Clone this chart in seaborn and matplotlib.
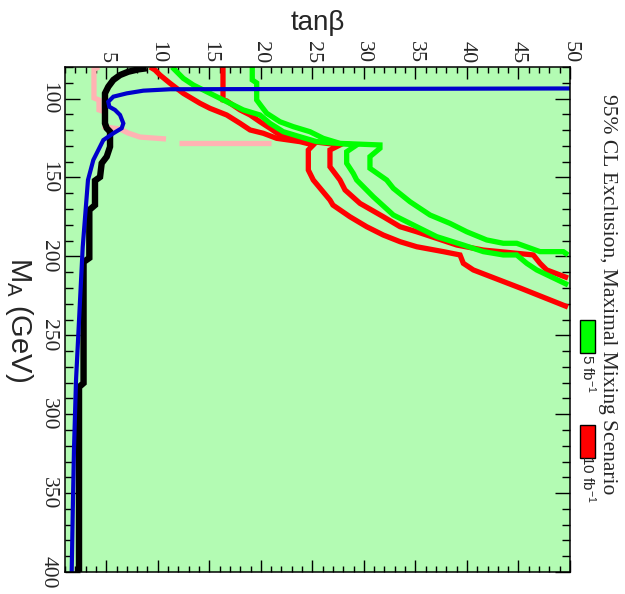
import numpy as np
import pandas as pd
import matplotlib
matplotlib.use("Agg")
import matplotlib.pyplot as plt
from matplotlib.patches import Rectangle
import seaborn as sns

# ---------------- data (tanβ, M_A in GeV) ----------------
red_a_tanb = [9.25, 9.73, 10.22, 11.19, 12.48, 14.10, 15.07, 16.69, 17.99, 18.96, 20.24, 21.54, 23.80, 25.09,
              24.61, 24.61, 25.09, 26.71, 27.00, 28.65, 30.27, 31.89, 33.51, 35.13, 37.71, 39.33, 39.65, 40.62,
              45.15, 49.8]
red_a_ma = [80, 81.9, 85.1, 90.3, 96.7, 103.0, 106.2, 110.4, 115.7, 119.9, 122.0, 125.2, 127.3, 129.4,
            132.6, 145.3, 151.6, 164.3, 167.5, 174.9, 181.2, 186.5, 190.7, 193.9, 197.0, 199.1, 204.4, 208.6,
            220.0, 232.1]

red_b_tanb = [16.33, 16.33, 16.69, 17.99, 18.96, 19.92, 20.89, 21.86, 23.80, 27.68, 26.71, 26.71, 27.68, 28.17,
              29.62, 31.89, 33.51, 35.13, 37.07, 39.01, 41.59, 43.21, 46.44, 47.09, 47.74, 49.81]
red_b_ma = [80, 100.9, 101.5, 107.2, 110.4, 114.7, 118.8, 123.1, 126.3, 129.4, 132.6, 143.2, 151.6, 157.9,
            166.4, 174.9, 181.2, 184.4, 188.6, 192.8, 196.0, 197.0, 199.1, 204.4, 208.6, 213.7]

green_a_tanb = [11.38, 12.48, 13.45, 15.07, 16.69, 18.30, 19.92, 20.89, 22.18, 23.80, 25.42, 29.30, 28.33, 28.33,
                28.97, 29.30, 30.91, 32.86, 35.13, 37.07, 39.65, 41.59, 43.53, 44.83, 45.80, 46.77, 49.81]
green_a_ma = [80, 87.2, 91.4, 96.7, 102.0, 107.2, 110.4, 115.7, 121.0, 124.2, 127.3, 129.4, 133.7, 141.0,
              147.4, 151.6, 162.2, 173.8, 181.2, 187.5, 192.8, 197.0, 199.1, 199.1, 204.4, 208.6, 218.1]

green_b_tanb = [19.17, 19.17, 19.60, 19.60, 20.09, 20.57, 21.86, 23.15, 24.77, 26.06, 27.68, 31.56, 31.56, 30.59,
                30.59, 32.21, 32.86, 34.48, 36.42, 38.36, 39.98, 41.92, 43.53, 44.83, 47.09, 49.35, 49.81]
green_b_ma = [80, 88.2, 90.1, 100.9, 105.2, 109.3, 114.7, 117.8, 121.0, 125.2, 128.4, 129.4, 131.5, 136.8,
              144.2, 151.6, 156.9, 165.4, 173.8, 179.1, 184.4, 189.6, 191.7, 191.7, 197.0, 197.0, 199.1]

blue_tanb = [1.65, 1.75, 1.87, 2.07, 2.72, 3.23, 3.75, 4.72, 5.69, 6.50, 6.66, 6.34, 5.85, 5.30, 5.20, 5.69,
             6.99, 8.60, 11.2, 50.0]
blue_ma = [400, 362.6, 322.7, 278.4, 194.0, 151.6, 138.9, 126.3, 122.0, 118.8, 115.7, 110.4, 107.2, 105.2,
           102.0, 98.8, 96.7, 95.0, 94.1, 93.6]

black_tanb = [2.36, 2.36, 2.80, 2.80, 3.36, 3.36, 3.91, 3.91, 4.40, 4.56, 5.05, 5.37, 5.37, 5.05, 4.88, 4.88,
              5.20, 5.69, 6.34, 7.14, 8.11, 8.93]
black_ma = [400, 282.8, 280.3, 203.6, 201.0, 170.6, 167.5, 152.0, 149.7, 141.0, 136.8, 130.5, 121.0, 118.8,
            115.7, 96.7, 92.5, 88.2, 85.1, 83.0, 81.5, 80.8]

pink_a_tanb = [4.30, 3.81, 3.81, 4.30, 4.30, 4.88, 4.88, 6.34, 7.11, 8.28, 10.8]
pink_a_ma = [80, 81.5, 99.6, 100.9, 107.2, 108.5, 118.0, 119.3, 121.8, 124.4, 125.6]

pink_b_tanb = [12.06, 20.99]
pink_b_ma = [128.4, 128.4]

tanb_ticks = [5, 10, 15, 20, 25, 30, 35, 40, 45, 50]
ma_ticks = [100, 150, 200, 250, 300, 350, 400]

# ---------------- style ----------------
sns.set_style("white")
plt.rcParams["font.family"] = ["Liberation Sans", "DejaVu Sans"]
plt.rcParams["mathtext.fontset"] = "custom"
plt.rcParams["mathtext.rm"] = "Liberation Sans"
plt.rcParams["mathtext.it"] = "Liberation Sans:italic"

fig = plt.figure(figsize=(6.25, 5.94), dpi=100)
ax = fig.add_axes([65 / 625, 1 - 572 / 594, 505 / 625, 505 / 594])
ax.set_facecolor("#b3fbb3")

def curve(tb, ma, color, lw):
    df = pd.DataFrame({"tanb": tb, "ma": ma})
    sns.lineplot(data=df, x="tanb", y="ma", sort=False, estimator=None, color=color,
                 linewidth=lw, ax=ax, legend=False, solid_joinstyle="miter", solid_capstyle="butt")

curve(pink_a_tanb, pink_a_ma, "#ffb3b3", 3.8)
curve(pink_b_tanb, pink_b_ma, "#ffb3b3", 3.8)
curve(red_a_tanb, red_a_ma, "#ff0000", 3.8)
curve(red_b_tanb, red_b_ma, "#ff0000", 3.8)
curve(green_a_tanb, green_a_ma, "#00ff00", 3.8)
curve(green_b_tanb, green_b_ma, "#00ff00", 3.8)
curve(black_tanb, black_ma, "#000000", 4.6)
curve(blue_tanb, blue_ma, "#0000cc", 3.0)

ax.set_xlim(1, 50)
ax.set_ylim(400, 80)
ax.set_xlabel("")
ax.set_ylabel("")

ax.set_xticks(tanb_ticks)
ax.set_xticks(np.arange(1, 51, 1), minor=True)
ax.set_yticks(ma_ticks)
ax.set_yticks(np.arange(80, 401, 10), minor=True)

ax.xaxis.tick_top()
ax.tick_params(axis="x", which="both", direction="in", top=True, bottom=True, labeltop=True,
               labelbottom=False, width=1.0, color="black")
ax.tick_params(axis="x", which="major", length=8.5, pad=3)
ax.tick_params(axis="x", which="minor", length=4.3)
ax.tick_params(axis="y", which="both", direction="in", left=True, right=True, labelleft=True,
               labelright=False, width=1.0, color="black")
ax.tick_params(axis="y", which="major", length=10.8, pad=5)
ax.tick_params(axis="y", which="minor", length=5.7)

ax.set_xticklabels([str(v) for v in tanb_ticks], rotation=-90, fontsize=16,
                   family=["Liberation Serif"], ha="center", va="bottom")
ax.set_yticklabels([str(v) for v in ma_ticks], rotation=-90, fontsize=15.5,
                   family=["Liberation Serif"], ha="right", va="center")

for s in ax.spines.values():
    s.set_linewidth(1.1)
    s.set_color("black")

# axis titles
fig.text(318 / 625, 1 - 23 / 594, "tanβ", fontsize=20, ha="center", va="center")
fig.text(19 / 625, 1 - 320 / 594, r"M$_{\mathregular{A}}$ (GeV)", fontsize=21, rotation=-90,
         ha="center", va="center")

# legend (outside, rotated)
fig.text(608 / 625, 1 - 294 / 594, "95% CL Exclusion, Maximal Mixing Scenario", fontsize=15.5,
         family=["Liberation Serif"], rotation=-90, ha="center", va="center")
fig.add_artist(Rectangle((580 / 625, 1 - 353 / 594), 15 / 625, 33 / 594, transform=fig.transFigure,
                         facecolor="#00ff00", edgecolor="black", linewidth=1.0))
fig.add_artist(Rectangle((580 / 625, 1 - 458 / 594), 15 / 625, 33 / 594, transform=fig.transFigure,
                         facecolor="#ff0000", edgecolor="black", linewidth=1.0))
fig.text(588 / 625, 1 - 374 / 594, r"5 fb$^{\mathregular{-1}}$", fontsize=11, rotation=-90,
         family=["Liberation Sans"], ha="center", va="center")
fig.text(588 / 625, 1 - 479 / 594, r"10 fb$^{\mathregular{-1}}$", fontsize=11, rotation=-90,
         family=["Liberation Sans"], ha="center", va="center")

fig.savefig("out.png", dpi=100)
